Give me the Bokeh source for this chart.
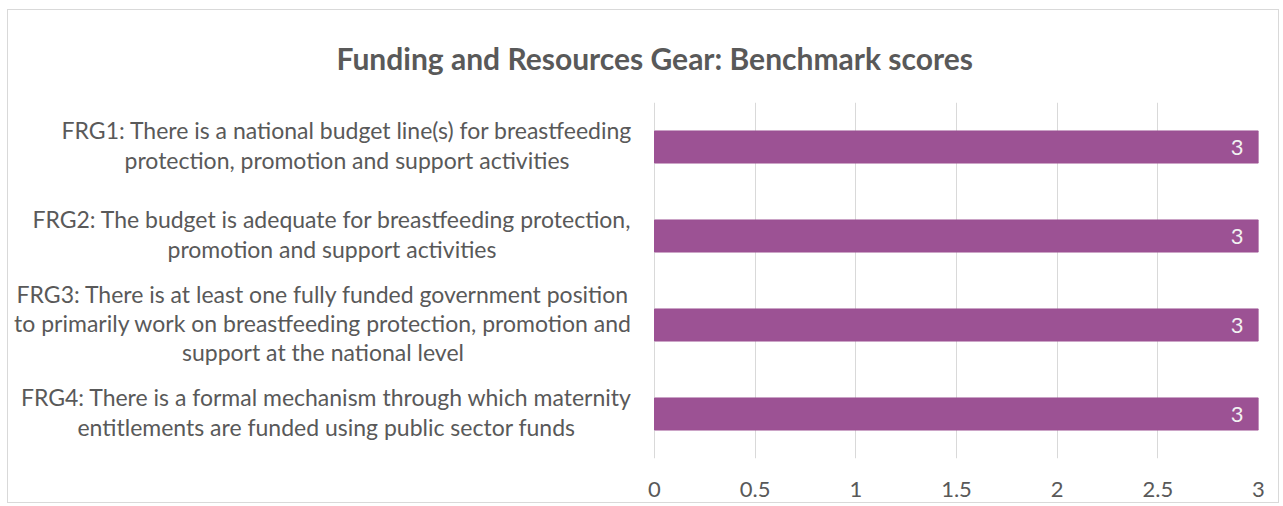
from bokeh.plotting import figure
from bokeh.models import FactorRange, Range1d, ColumnDataSource, FixedTicker, Title
from bokeh.embed import file_html
from bokeh.resources import INLINE

title_text = "Funding and Resources Gear: Benchmark scores"
categories = [
    "FRG1: There is a national budget line(s) for breastfeeding\nprotection, promotion and support activities",
    "FRG2: The budget is adequate for breastfeeding protection,\npromotion and support activities",
    "FRG3: There is at least one fully funded government position\nto primarily work on breastfeeding protection, promotion and\nsupport at the national level",
    "FRG4: There is a formal mechanism through which maternity\nentitlements are funded using public sector funds",
]
scores = [3, 3, 3, 3]
x_ticks = [0, 0.5, 1, 1.5, 2, 2.5, 3]

# layout: horizontal pixel offset of each (centred) category label block from x=0
label_offsets = [-307.5, -322.5, -331.5, -328]

FONT = "Lato"
GREY = "#595959"

W, H = 1272, 494
LEFT_PX = 646          # pixels between frame left edge and x=0
RIGHT_BORDER = 22
frame_w = W - RIGHT_BORDER
x_max = 3
x_min = -x_max * LEFT_PX / (frame_w - LEFT_PX)

src = ColumnDataSource(dict(cat=categories, val=scores, lbl=[str(v) for v in scores],
                            zero=[0] * len(scores), off=label_offsets))

p = figure(
    width=W, height=H,
    y_range=FactorRange(factors=categories[::-1]),
    x_range=Range1d(x_min, x_max),
    output_backend="svg", toolbar_location=None,
    min_border_left=0, min_border_right=RIGHT_BORDER, min_border_top=92, min_border_bottom=46,
    title=None,
)
p.styles = {"border": "1px solid #D9D9D9", "margin-left": "7px", "margin-top": "9px"}
p.outline_line_color = None
p.background_fill_color = "white"
p.border_fill_color = "white"

p.hbar(y="cat", right="val", left=0, height=0.36, source=src,
       fill_color="#9C5294", line_color="#9C5294")
p.text(x="val", y="cat", text="lbl", source=src, x_offset=-15,
       text_align="right", text_baseline="middle", text_color="#F2F2F2",
       text_font_size="22px", text_font={"value": FONT})
p.text(x="zero", y="cat", text="cat", source=src, x_offset="off", y_offset=-2,
       text_align="center", text_baseline="middle", text_color=GREY,
       text_font_size="23px", text_font={"value": FONT}, text_line_height=1.05)

p.xgrid.grid_line_color = "#D9D9D9"
p.xgrid.grid_line_width = 1
p.ygrid.grid_line_color = None

p.xaxis.ticker = FixedTicker(ticks=x_ticks)
p.xaxis.axis_line_color = None
p.xaxis.major_tick_line_color = None
p.xaxis.minor_tick_line_color = None
p.xaxis.major_tick_out = 0
p.xaxis.major_label_standoff = 23
p.xaxis.major_label_text_font = FONT
p.xaxis.major_label_text_font_size = "22px"
p.xaxis.major_label_text_color = GREY

p.yaxis.visible = False

p.add_layout(Title(text=title_text, align="left", offset=328, standoff=54,
                   text_font=FONT, text_font_style="bold", text_font_size="30px",
                   text_color=GREY), "above")

open("out.html", "w").write(file_html(p, INLINE))
